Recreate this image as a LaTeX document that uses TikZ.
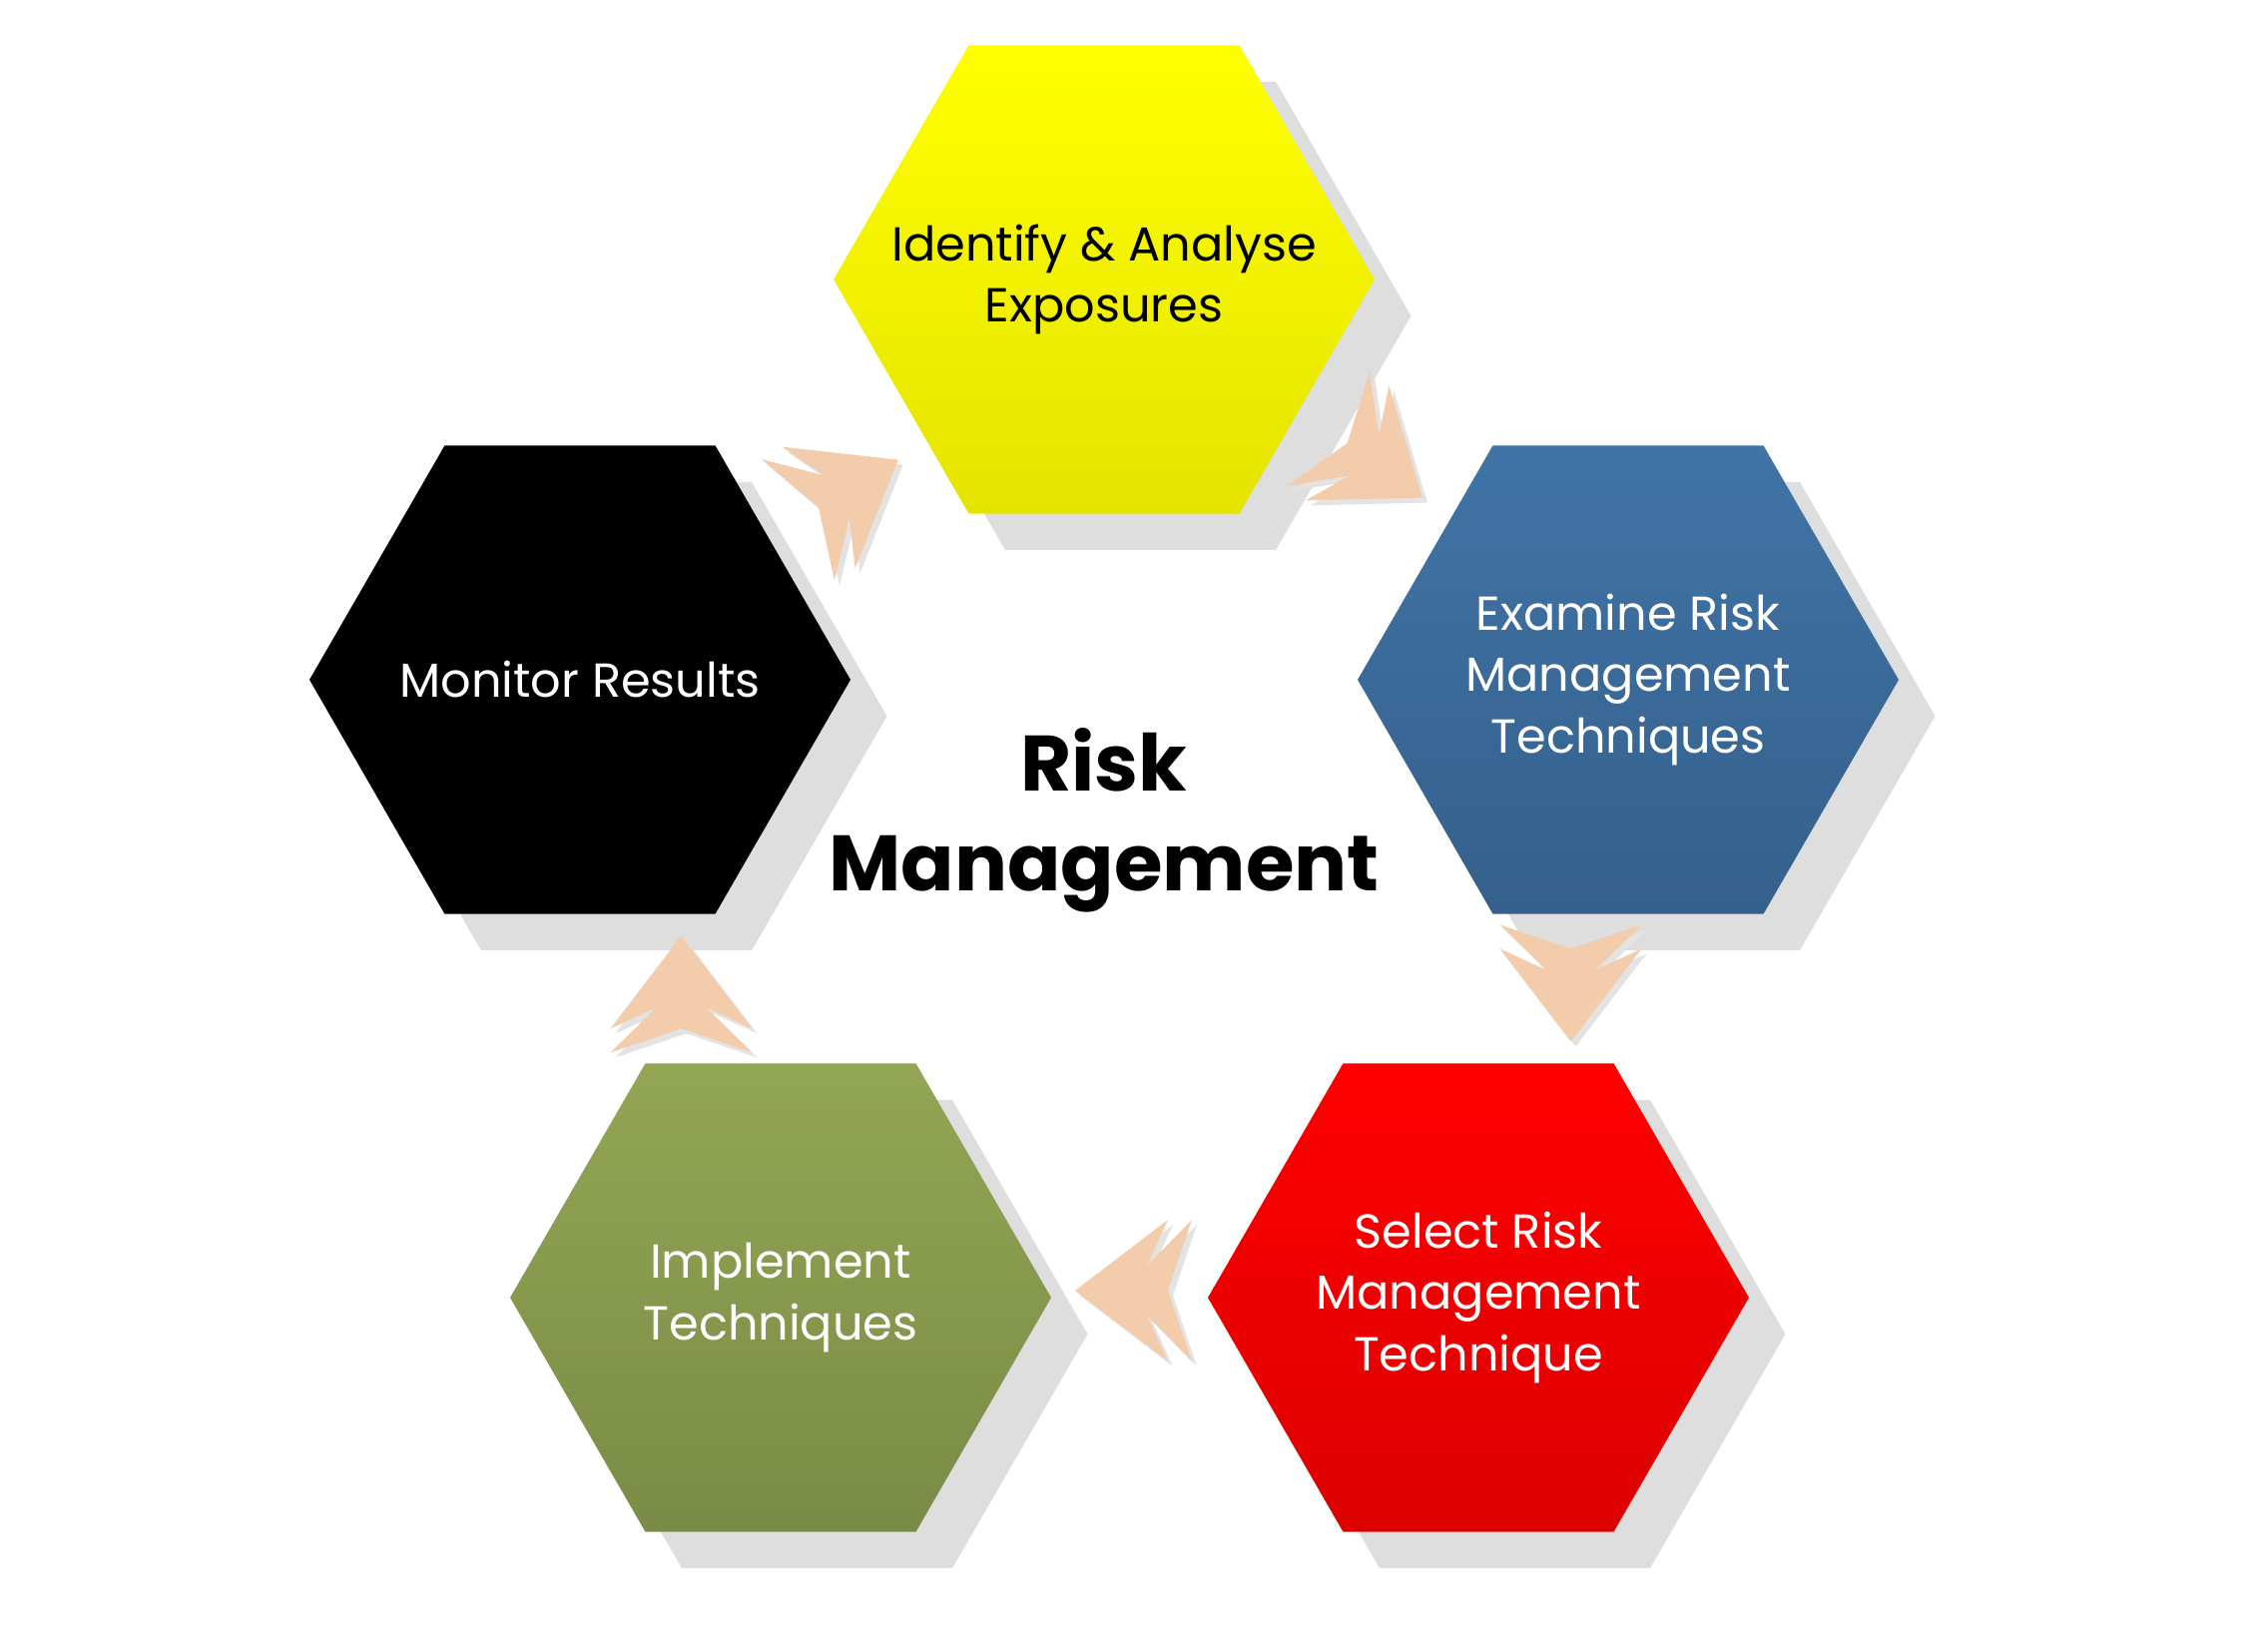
\documentclass[tikz,border=0pt]{standalone}
\usepackage{fontspec}
\setmainfont{Poppins}
\usetikzlibrary{shapes.geometric,shadows,calc}

\definecolor{ylwtop}{RGB}{255,255,0}
\definecolor{ylwbot}{RGB}{228,228,0}
\definecolor{blutop}{RGB}{64,116,166}
\definecolor{blubot}{RGB}{53,96,140}
\definecolor{redtop}{RGB}{255,0,0}
\definecolor{redbot}{RGB}{220,0,0}
\definecolor{grntop}{RGB}{147,166,84}
\definecolor{grnbot}{RGB}{122,139,70}
\definecolor{peach}{RGB}{243,204,172}

\tikzset{
  hexa/.style={regular polygon, regular polygon sides=6, minimum size=5.42cm,
    inner sep=0pt, outer sep=0pt,
    general shadow={fill=black!13, shadow xshift=0.365cm, shadow yshift=-0.365cm}},
  hexatext/.style={align=center, font=\fontsize{13.6}{17.4}\selectfont},
  chev/.pic={
    \path[pic actions] (0.58,0) -- (-0.35,0.71) -- (-0.14,0.25) -- (-0.59,0.71)
      -- (-0.35,0) -- (-0.59,-0.71) -- (-0.14,-0.25) -- (-0.35,-0.71) -- cycle;
  }
}

\begin{document}
\begin{tikzpicture}
    \useasboundingbox (0,0) rectangle (22.72,16.28);
    \node[hexa, top color=ylwtop, bottom color=ylwbot, label={[hexatext, text=black]center:Identify \& Analyse\\Exposures}] at (11.06,13.48) (H1) {};
    \node[hexa, top color=blutop, bottom color=blubot, label={[hexatext, text=white]center:Examine Risk\\Management\\Techniques}] at (16.31,9.47) (H2) {};
    \node[hexa, top color=redtop, bottom color=redbot, label={[hexatext, text=white]center:Select Risk\\Management\\Technique}] at (14.81,3.28) (H3) {};
    \node[hexa, top color=grntop, bottom color=grnbot, label={[hexatext, text=white]center:Implement\\Techniques}] at (7.82,3.28) (H4) {};
    \node[hexa, fill=black, label={[hexatext, text=white]center:Monitor Results}] at (5.81,9.47) (H5) {};
    \node[align=center, font=\fontsize{22.4}{28.4}\selectfont\bfseries] at (11.06,8.06) (RM) {Risk\\Management};
    % arrows between the steps
    \path ($(H1)!0.5!(H2)+(0.095,0.16)$) pic[shift={(0.05,-0.05)}, rotate=-36, fill=black!11] {chev} pic[rotate=-36, fill=peach] {chev};
    \path ($(H2)!0.5!(H3)+(0.175,0.05)$) pic[shift={(0.05,-0.05)}, rotate=-90, fill=black!11] {chev} pic[rotate=-90, fill=peach] {chev};
    \path ($(H3)!0.5!(H4)+(0.035,0.07)$) pic[shift={(0.05,-0.05)}, rotate=180, fill=black!11] {chev} pic[rotate=180, fill=peach] {chev};
    \path ($(H4)!0.5!(H5)+(0.01,-0.05)$) pic[shift={(0.05,-0.05)}, rotate=90, fill=black!11] {chev} pic[rotate=90, fill=peach] {chev};
    \path ($(H5)!0.5!(H1)+(0.065,-0.10)$) pic[shift={(0.05,-0.05)}, rotate=31, fill=black!11] {chev} pic[rotate=31, fill=peach] {chev};
\end{tikzpicture}
\end{document}
